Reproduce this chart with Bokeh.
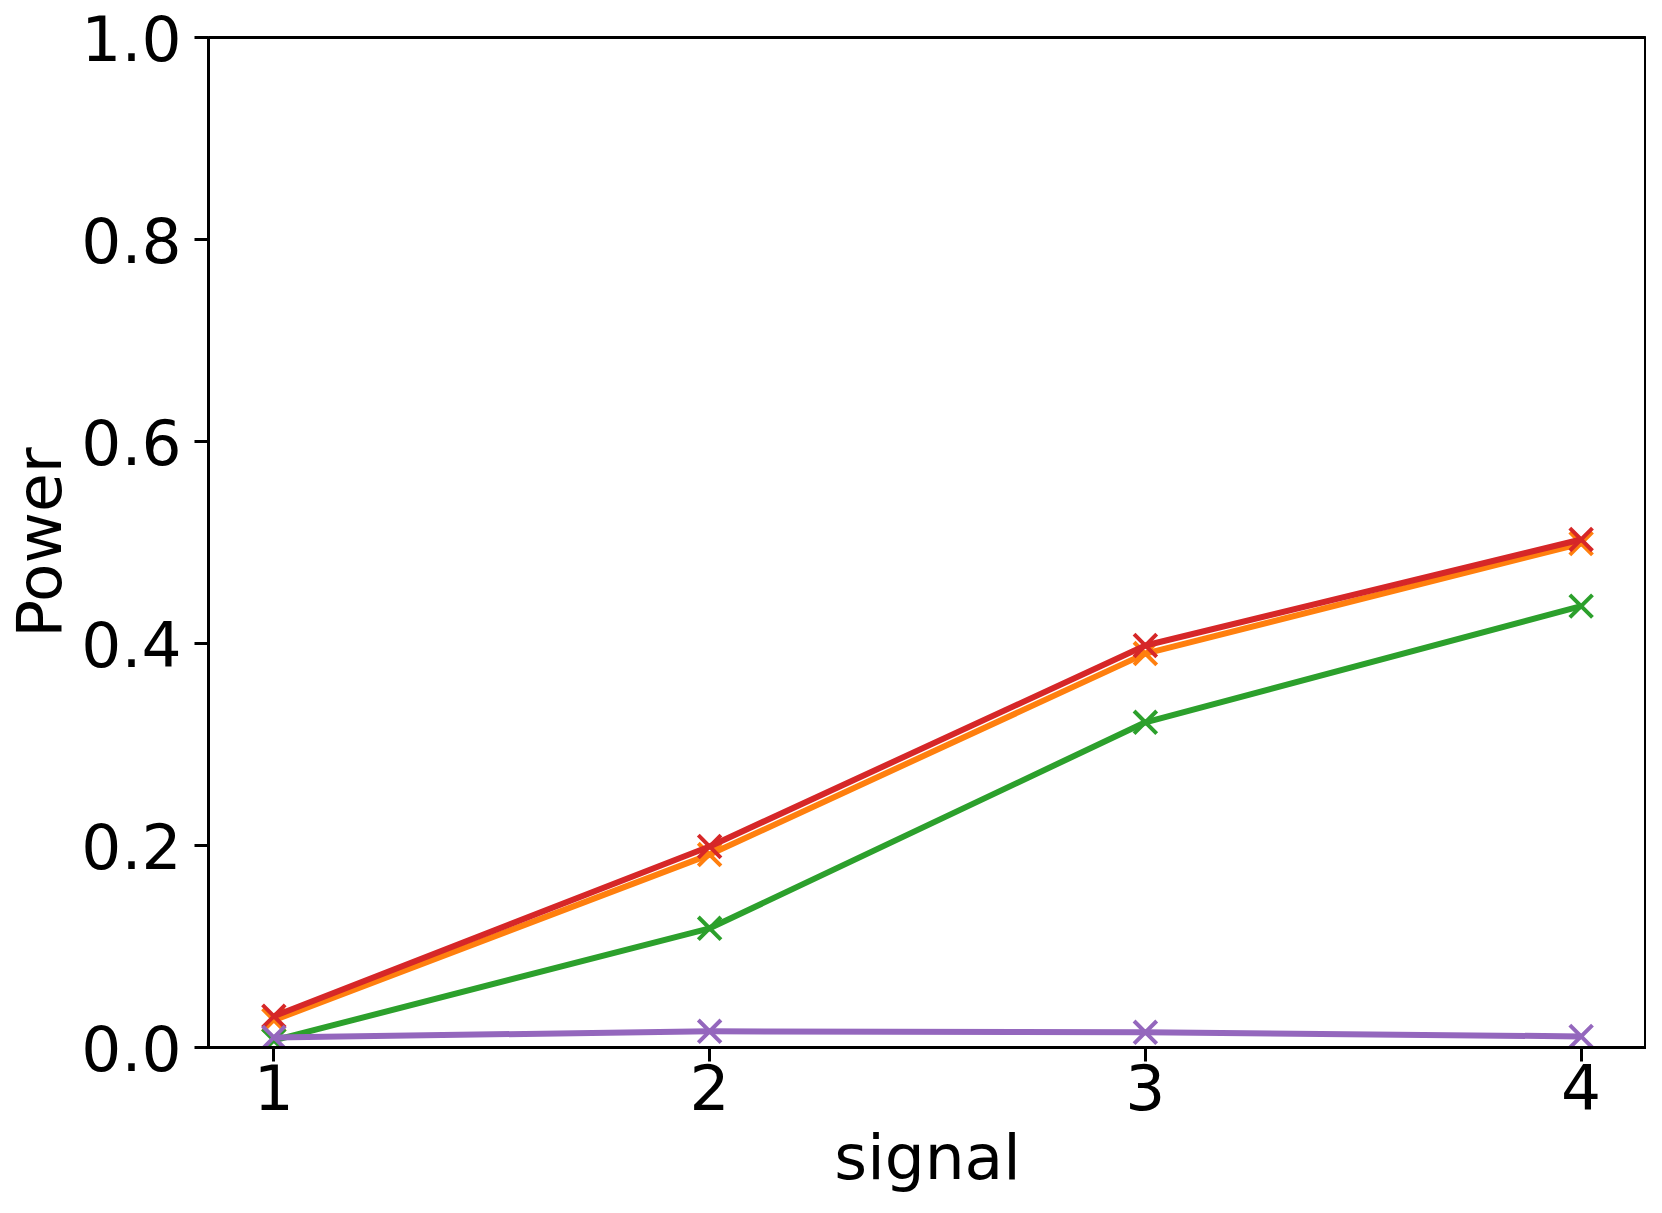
from bokeh.plotting import figure
from bokeh.models import Range1d, FixedTicker, CustomJSTickFormatter
from bokeh.embed import file_html
from bokeh.resources import INLINE

# Data
signal = [1, 2, 3, 4]
orange_vals = [0.027, 0.191, 0.390, 0.499]
green_vals = [0.007, 0.118, 0.322, 0.437]
red_vals = [0.031, 0.199, 0.398, 0.503]
purple_vals = [0.010, 0.016, 0.015, 0.011]
x_ticks = [1, 2, 3, 4]
y_ticks = [0.0, 0.2, 0.4, 0.6, 0.8, 1.0]

series = [
    (orange_vals, "#ff7f0e"),
    (green_vals, "#2ca02c"),
    (red_vals, "#d62728"),
    (purple_vals, "#9467bd"),
]

FONT = "DejaVu Sans"
FS = "63px"

p = figure(width=1646, height=1197, output_backend="svg", toolbar_location=None,
           x_range=Range1d(0.85, 4.15), y_range=Range1d(0.0, 1.0),
           min_border_left=196, min_border_right=0, min_border_top=37, min_border_bottom=150)

p.background_fill_color = "white"
p.border_fill_color = "white"
p.outline_line_color = "black"
p.outline_line_width = 3
p.xgrid.visible = False
p.ygrid.visible = False

for vals, col in series:
    p.line(signal, vals, line_color=col, line_width=6, line_join="round")
    p.scatter(signal, vals, marker="x", size=32, line_color=col, line_width=4)

for ax in (p.xaxis[0], p.yaxis[0]):
    ax.axis_line_color = "black"
    ax.axis_line_width = 3
    ax.major_tick_line_color = "black"
    ax.major_tick_line_width = 3
    ax.major_tick_in = 0
    ax.major_tick_out = 14
    ax.minor_tick_line_color = None
    ax.major_label_text_font = FONT
    ax.major_label_text_font_size = FS
    ax.major_label_text_color = "black"
    ax.axis_label_text_font = FONT
    ax.axis_label_text_font_size = FS
    ax.axis_label_text_font_style = "normal"
    ax.axis_label_text_color = "black"

p.xaxis.ticker = FixedTicker(ticks=x_ticks)
p.yaxis.ticker = FixedTicker(ticks=y_ticks)
p.yaxis.formatter = CustomJSTickFormatter(code="return tick.toFixed(1);")
p.xaxis.formatter = CustomJSTickFormatter(code="return tick.toFixed(0);")

p.xaxis.axis_label = "signal"
p.yaxis.axis_label = "Power"
p.xaxis.major_label_standoff = 2
p.xaxis.axis_label_standoff = 8
p.yaxis.major_label_standoff = 13
p.yaxis.axis_label_standoff = 2

open("out.html", "w").write(file_html(p, INLINE))
